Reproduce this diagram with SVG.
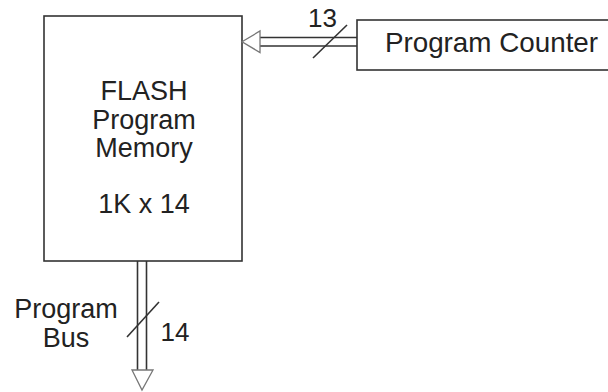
<svg xmlns="http://www.w3.org/2000/svg" width="608" height="392" viewBox="0 0 608 392">
<style>
.box{fill:#fff;stroke:#333;stroke-width:1.6}
.ln{stroke:#333;stroke-width:1.6;fill:none}
.head{fill:#fff;stroke:#777;stroke-width:1.3;stroke-linejoin:miter}
.t{font-family:"Liberation Sans",Arial,sans-serif;font-size:27px;fill:#222;text-anchor:middle}
</style>
<rect width="608" height="392" fill="#fff"/>
<g id="memory">
<rect class="box" x="44" y="16" width="198" height="245"/>
<text class="t" x="144" y="100">FLASH</text>
<text class="t" x="144" y="128.5">Program</text>
<text class="t" x="144" y="157">Memory</text>
<text class="t" x="144" y="212.5">1K x 14</text>
</g>
<g id="pc">
<rect class="box" x="357" y="20" width="270" height="50"/>
<text class="t" x="491.5" y="52" style="font-size:27.8px">Program Counter</text>
</g>
<g id="connectors">
<g id="addr-bus">
<line class="ln" x1="259" y1="37.5" x2="357" y2="37.5"/>
<line class="ln" x1="259" y1="46" x2="357" y2="46"/>
<polygon class="head" points="242,41.8 260,31 260,37.5 260,46 260,52.5"/>
<line class="ln" x1="313" y1="58" x2="347" y2="25"/>
<text class="t" x="322.5" y="27" style="font-size:26px">13</text>
</g>
<g id="prog-bus">
<line class="ln" x1="137.5" y1="261" x2="137.5" y2="371"/>
<line class="ln" x1="146.5" y1="261" x2="146.5" y2="371"/>
<polygon class="head" points="132,370 153,370 142,390"/>
<line class="ln" x1="127" y1="337" x2="159" y2="302"/>
<text class="t" x="175" y="341" style="font-size:26px">14</text>
<text class="t" x="66" y="318">Program</text>
<text class="t" x="66" y="347">Bus</text>
</g>
</g>
</svg>
